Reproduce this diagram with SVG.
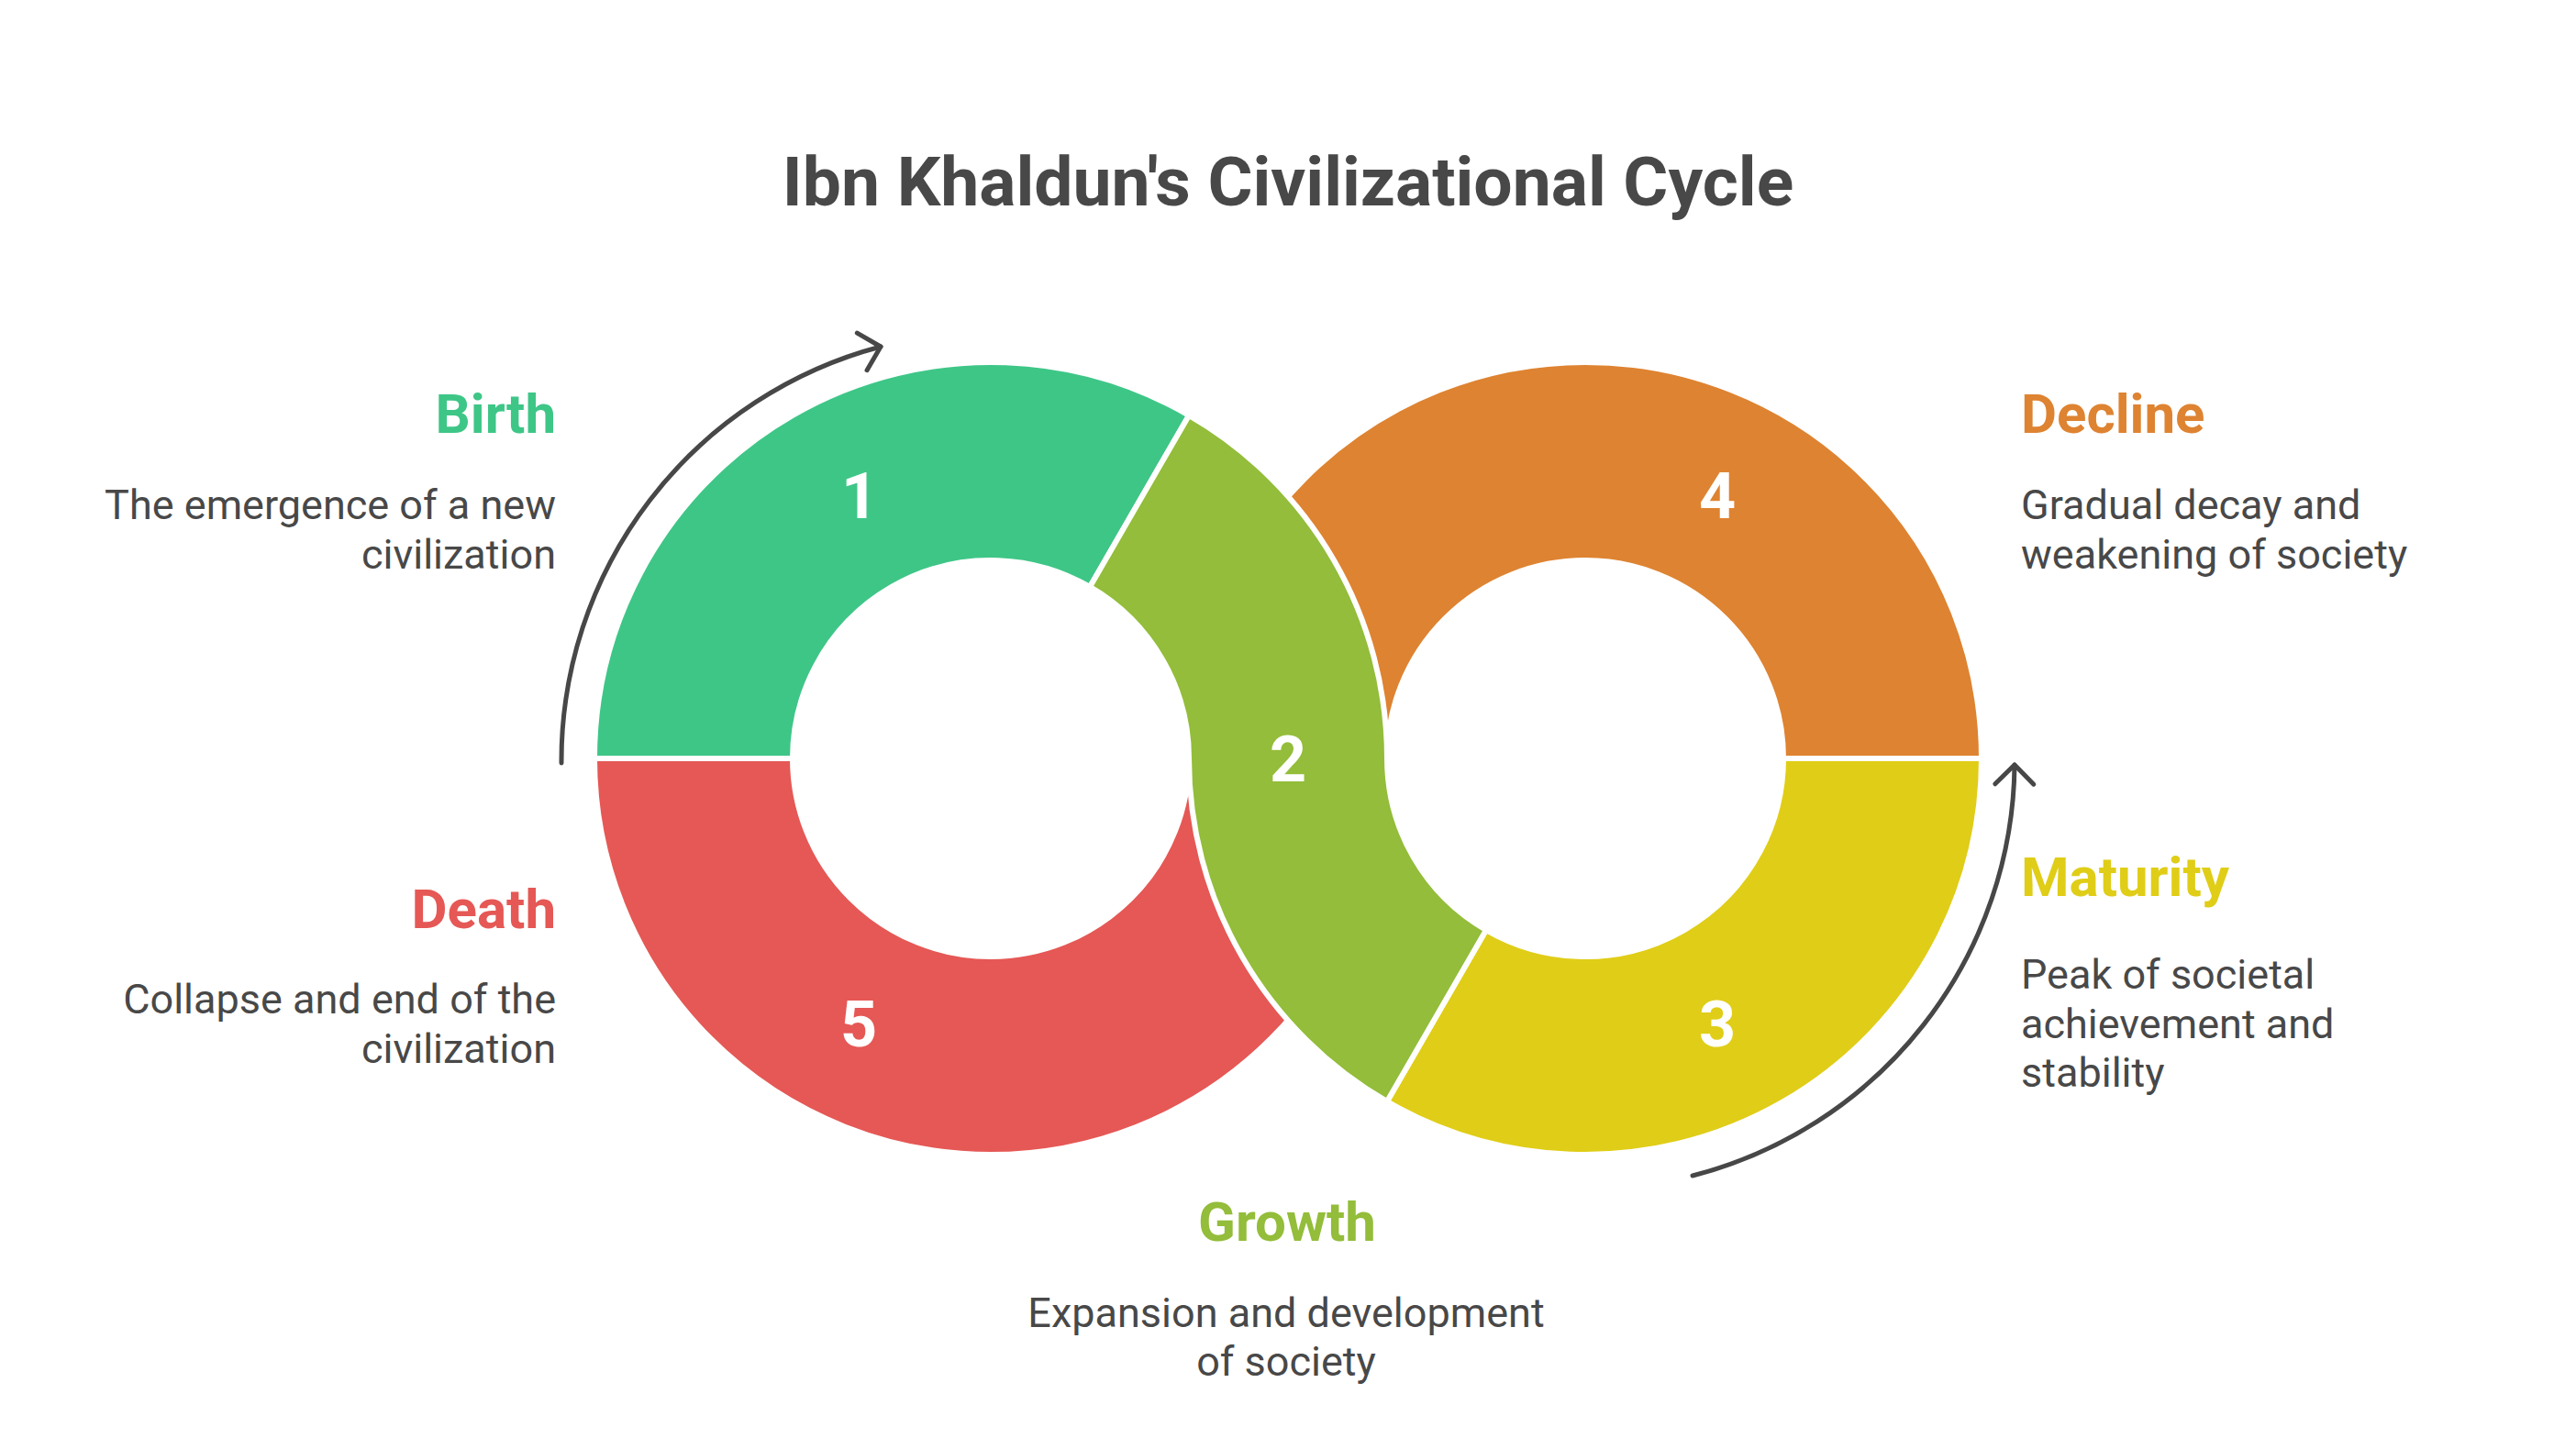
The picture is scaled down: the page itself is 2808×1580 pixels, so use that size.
<svg xmlns="http://www.w3.org/2000/svg" width="2808" height="1580" viewBox="0 0 2808 1580">
  <style>
    .seg { stroke: #ffffff; stroke-width: 6; stroke-linejoin: round; }
    .num { font-family: Roboto, "Liberation Sans", sans-serif; font-weight: 700; font-size: 70px; fill: #ffffff; text-anchor: middle; }
    .ttl { font-family: Roboto, "Liberation Sans", sans-serif; font-weight: 700; font-size: 60px; }
    .desc { font-family: Roboto, "Liberation Sans", sans-serif; font-weight: 400; font-size: 45px; fill: #484848; }
    .end { text-anchor: end; }
    .start { text-anchor: start; }
    .mid { text-anchor: middle; }
    .arrow { fill: none; stroke: #474747; stroke-width: 5; stroke-linecap: round; }
  </style>
  <defs>
    <marker id="chev" markerUnits="userSpaceOnUse" viewBox="-30 -30 40 60" refX="0" refY="0" markerWidth="40" markerHeight="60" orient="auto" overflow="visible">
      <path d="M-21,-21 L0,0 L-21,21" fill="none" stroke="#474747" stroke-width="5" stroke-linecap="round" stroke-linejoin="round"/>
    </marker>
  </defs>
  <rect width="2808" height="1580" fill="#ffffff"/>

  <text x="1404" y="224" font-family="Roboto, 'Liberation Sans', sans-serif" font-weight="700" font-size="75" fill="#484848" text-anchor="middle">Ibn Khaldun's Civilizational Cycle</text>

  <g id="node-birth">
    <path class="seg" fill="#3EC687" d="M648,827 A432,432 0 0 1 1296,452.88 L1188,639.94 A216,216 0 0 0 864,827 Z"/>
    <text class="num" x="937" y="565">1</text>
    <text class="ttl end" x="606" y="472" fill="#3EC687">Birth</text>
    <text class="desc end" x="606" y="566">The emergence of a new</text>
    <text class="desc end" x="606" y="620">civilization</text>
  </g>

  <g id="node-death">
    <path class="seg" fill="#E55855" d="M1512,827 A432,432 0 0 1 648,827 L864,827 A216,216 0 0 0 1296,827 Z"/>
    <text class="num" x="936" y="1141">5</text>
    <text class="ttl end" x="606" y="1012" fill="#E55855">Death</text>
    <text class="desc end" x="606" y="1105">Collapse and end of the</text>
    <text class="desc end" x="606" y="1159">civilization</text>
  </g>

  <g id="node-maturity">
    <path class="seg" fill="#E0CD17" d="M2160,827 A432,432 0 0 1 1512,1201.12 L1620,1014.06 A216,216 0 0 0 1944,827 Z"/>
    <text class="num" x="1872" y="1141">3</text>
    <text class="ttl start" x="2203" y="977" fill="#E0CD17">Maturity</text>
    <text class="desc start" x="2203" y="1078">Peak of societal</text>
    <text class="desc start" x="2203" y="1132">achievement and</text>
    <text class="desc start" x="2203" y="1185">stability</text>
  </g>

  <g id="node-decline">
    <path class="seg" fill="#DE8331" d="M1296,827 A432,432 0 0 1 2160,827 L1944,827 A216,216 0 0 0 1512,827 Z"/>
    <text class="num" x="1872" y="565">4</text>
    <text class="ttl start" x="2203" y="472" fill="#DE8331">Decline</text>
    <text class="desc start" x="2203" y="566">Gradual decay and</text>
    <text class="desc start" x="2203" y="620">weakening of society</text>
  </g>

  <g id="node-growth">
    <path class="seg" fill="#93BD3A" d="M1296,452.88 A432,432 0 0 1 1512,827 A216,216 0 0 0 1620,1014.06 L1512,1201.12 A432,432 0 0 1 1296,827 A216,216 0 0 0 1188,639.94 Z"/>
    <text class="num" x="1404" y="852">2</text>
    <text class="ttl mid" x="1403" y="1353" fill="#93BD3A">Growth</text>
    <text class="desc mid" x="1402" y="1447">Expansion and development</text>
    <text class="desc mid" x="1402" y="1500">of society</text>
  </g>

  <g id="connectors">
    <path class="arrow" d="M612,832 A467,467 0 0 1 960,378" marker-end="url(#chev)"/>
    <path class="arrow" d="M1845,1282 A467,467 0 0 0 2196,834" marker-end="url(#chev)"/>
  </g>
</svg>
